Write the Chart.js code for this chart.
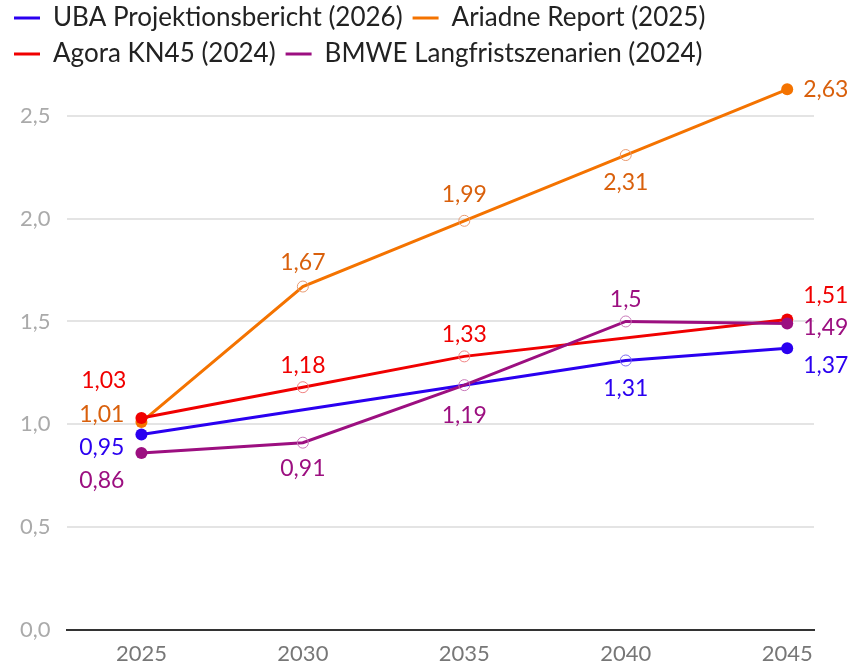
<!DOCTYPE html>
<html>
<head>
<meta charset="utf-8">
<script src="https://cdn.jsdelivr.net/npm/chart.js@4"></script>
<style>
  html, body { margin: 0; padding: 0; background: #fff; }
  #wrap { width: 863px; height: 666px; }
</style>
</head>
<body>
<div id="wrap"><canvas id="chartSzenarien"></canvas></div>
<script>
// Jahre und Werte (null = kein Wert im Szenario)
const years = [2025, 2030, 2035, 2040, 2045]
const yTicks = [0, 0.5, 1.0, 1.5, 2.0, 2.5]
const uba = [0.95, null, null, 1.31, 1.37]
const ariadne = [1.01, 1.67, 1.99, 2.31, 2.63]
const agora = [1.03, 1.18, 1.33, null, 1.51]
const bmwe = [0.86, 0.91, 1.19, 1.5, 1.49]

const fontFamily = 'Lato, "Noto Sans", sans-serif'

// Beschriftung je Punkt: [dx, dy, align]
const placeUba = [[-17, 13, 'right'], null, null, [0, 28, 'center'], [16, 17, 'left']]
const placeAriadne = [[-17, -8, 'right'], [0, -24, 'center'], [0, -26, 'center'], [0, 28, 'center'], [16, 0, 'left']]
const placeAgora = [[-15, -37, 'right'], [0, -22, 'center'], [0, -22, 'center'], null, [16, -24, 'left']]
const placeBmwe = [[-17, 28, 'right'], [0, 26, 'center'], [0, 30, 'center'], [0, -22, 'center'], [16, 4, 'left']]

function makeSet(label, values, color, light, labelColor, place, order) {
    let last = values.length - 1
    return {
        label: label,
        data: values.map((v, i) => ({x: years[i], y: v})),
        values: values,
        borderColor: color,
        backgroundColor: color,
        borderWidth: 3,
        spanGaps: true,
        tension: 0,
        order: order,
        labelColor: labelColor,
        place: place,
        pointRadius: function(ctx) {
            let i = ctx.dataIndex
            return (i == 0 || i == last) ? 6 : 5.5
        },
        pointBackgroundColor: function(ctx) {
            let i = ctx.dataIndex
            return (i == 0 || i == last) ? color : 'rgba(255,255,255,0)'
        },
        pointBorderColor: function(ctx) {
            let i = ctx.dataIndex
            return (i == 0 || i == last) ? color : light
        },
        pointBorderWidth: function(ctx) {
            let i = ctx.dataIndex
            return (i == 0 || i == last) ? 0 : 1
        },
        pointHoverRadius: 6
    }
}

// eigene Datenbeschriftung (kein datalabels-Plugin)
const valueLabels = {
    id: 'valueLabels',
    afterDatasetsDraw(chart) {
        let ctx = chart.ctx
        ctx.save()
        ctx.font = '23px ' + fontFamily
        ctx.textBaseline = 'middle'
        chart.data.datasets.forEach(function(ds, di) {
            let meta = chart.getDatasetMeta(di)
            meta.data.forEach(function(pt, i) {
                let v = ds.values[i]
                let p = ds.place[i]
                if (v == null || !p) return
                ctx.fillStyle = ds.labelColor
                ctx.textAlign = p[2]
                ctx.fillText(String(v).replace('.', ','), pt.x + p[0], pt.y + p[1])
            })
        })
        ctx.restore()
    }
}

new Chart(document.getElementById('chartSzenarien'), {
    type: 'line',
    data: {
        datasets: [
            makeSet('UBA Projektionsbericht (2026)', uba, '#2a00f0', '#7a66f2', '#2a00f0', placeUba, 4),
            makeSet('Ariadne Report (2025)', ariadne, '#f47300', '#e89a70', '#d9600c', placeAriadne, 3),
            makeSet('Agora KN45 (2024)', agora, '#f00000', '#f08080', '#f00000', placeAgora, 2),
            makeSet('BMWE Langfristszenarien (2024)', bmwe, '#9c0f80', '#c878b8', '#9c0f80', placeBmwe, 1)
        ]
    },
    options: {
        responsive: true,
        maintainAspectRatio: false,
        animation: false,
        layout: {
            padding: { left: 4, right: 49, top: -5, bottom: -12 }
        },
        plugins: {
            tooltip: { enabled: false },
            legend: {
                position: 'top',
                align: 'start',
                labels: {
                    font: { family: fontFamily, size: 26 },
                    color: '#222',
                    boxWidth: 26,
                    boxHeight: 3,
                    padding: 10,
                    sort: (a, b) => a.datasetIndex - b.datasetIndex,
                    generateLabels: function(chart) {
                        return chart.data.datasets.map(function(ds, i) {
                            return {
                                text: ds.label,
                                fillStyle: ds.borderColor,
                                strokeStyle: ds.borderColor,
                                lineWidth: 0,
                                datasetIndex: i,
                                hidden: !chart.isDatasetVisible(i),
                                fontColor: '#222'
                            }
                        })
                    }
                }
            }
        },
        scales: {
            x: {
                type: 'linear',
                min: 2022.68,
                max: 2045.83,
                afterBuildTicks: function(scale) {
                    scale.ticks = years.map(v => ({value: v}))
                },
                grid: { display: false, drawTicks: false },
                border: { display: true, color: '#333', width: 2 },
                ticks: {
                    color: '#777',
                    font: { family: fontFamily, size: 22 },
                    padding: 11,
                    callback: v => String(v)
                }
            },
            y: {
                min: 0,
                max: 2.69,
                afterBuildTicks: function(scale) {
                    scale.ticks = yTicks.map(v => ({value: v}))
                },
                grid: {
                    color: function(ctx) { return ctx.tick.value == 0 ? 'rgba(0,0,0,0)' : '#e4e4e4' },
                    lineWidth: 2,
                    drawTicks: false
                },
                border: { display: false },
                ticks: {
                    color: '#aaa',
                    font: { family: fontFamily, size: 22 },
                    padding: 16,
                    callback: v => v.toFixed(1).replace('.', ',')
                }
            }
        }
    },
    plugins: [valueLabels]
})
</script>
</body>
</html>
